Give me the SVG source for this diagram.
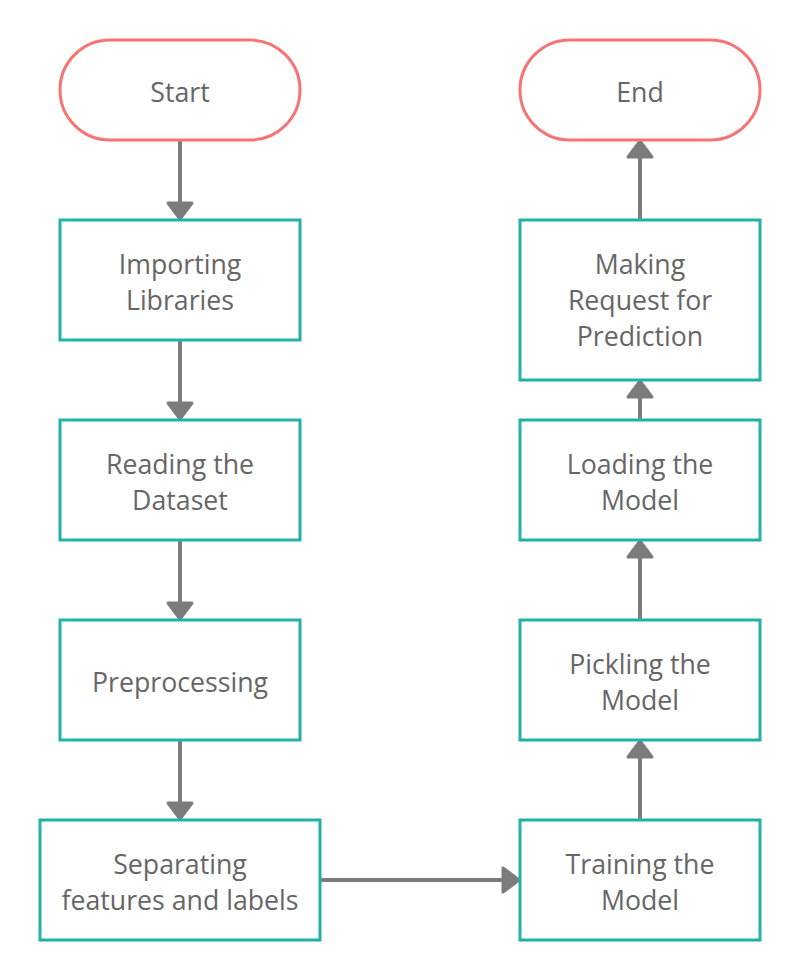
<svg xmlns="http://www.w3.org/2000/svg" width="800" height="980" viewBox="0 0 800 980">
<defs>
<style>
.term{fill:#fff;stroke:#f77474;stroke-width:3}
.box{fill:#fff;stroke:#22b0aa;stroke-width:3}
.lbl{font-family:"Open Sans","Noto Sans",sans-serif;font-size:26.7px;fill:#666;text-anchor:middle}
.ln{stroke:#7c7c7c;stroke-width:4;fill:none}
.hd{fill:#7c7c7c;stroke:#7c7c7c;stroke-width:3;stroke-linejoin:round}
</style>
</defs>
<rect width="800" height="980" fill="#fff"/>
<g id="connectors">
<line class="ln" x1="180" y1="140" x2="180" y2="204"/>
<polygon class="hd" points="168,203 192,203 180,219"/>
<line class="ln" x1="180" y1="340" x2="180" y2="404"/>
<polygon class="hd" points="168,403 192,403 180,419"/>
<line class="ln" x1="180" y1="540" x2="180" y2="604"/>
<polygon class="hd" points="168,603 192,603 180,619"/>
<line class="ln" x1="180" y1="740" x2="180" y2="804"/>
<polygon class="hd" points="168,803 192,803 180,819"/>
<line class="ln" x1="320" y1="880" x2="504" y2="880"/>
<polygon class="hd" points="503,868 503,892 519,880"/>
<line class="ln" x1="640" y1="820" x2="640" y2="756"/>
<polygon class="hd" points="628,757 652,757 640,741"/>
<line class="ln" x1="640" y1="620" x2="640" y2="556"/>
<polygon class="hd" points="628,557 652,557 640,541"/>
<line class="ln" x1="640" y1="420" x2="640" y2="396"/>
<polygon class="hd" points="628,397 652,397 640,381"/>
<line class="ln" x1="640" y1="220" x2="640" y2="156"/>
<polygon class="hd" points="628,157 652,157 640,141"/>
</g>
<g id="start"><rect class="term" x="60" y="40" width="240" height="100" rx="50"/><text class="lbl" x="180" y="101.5">Start</text></g>
<g id="importing"><rect class="box" x="60" y="220" width="240" height="120"/><text class="lbl" x="180" y="274">Importing</text><text class="lbl" x="180" y="310">Libraries</text></g>
<g id="reading"><rect class="box" x="60" y="420" width="240" height="120"/><text class="lbl" x="180" y="474">Reading the</text><text class="lbl" x="180" y="510">Dataset</text></g>
<g id="preprocessing"><rect class="box" x="60" y="620" width="240" height="120"/><text class="lbl" x="180" y="692">Preprocessing</text></g>
<g id="separating"><rect class="box" x="40" y="820" width="280" height="120"/><text class="lbl" x="180" y="874">Separating</text><text class="lbl" x="180" y="910">features and labels</text></g>
<g id="training"><rect class="box" x="520" y="820" width="240" height="120"/><text class="lbl" x="640" y="874">Training the</text><text class="lbl" x="640" y="910">Model</text></g>
<g id="pickling"><rect class="box" x="520" y="620" width="240" height="120"/><text class="lbl" x="640" y="674">Pickling the</text><text class="lbl" x="640" y="710">Model</text></g>
<g id="loading"><rect class="box" x="520" y="420" width="240" height="120"/><text class="lbl" x="640" y="474">Loading the</text><text class="lbl" x="640" y="510">Model</text></g>
<g id="making"><rect class="box" x="520" y="220" width="240" height="160"/><text class="lbl" x="640" y="274">Making</text><text class="lbl" x="640" y="310">Request for</text><text class="lbl" x="640" y="346">Prediction</text></g>
<g id="end"><rect class="term" x="520" y="40" width="240" height="100" rx="50"/><text class="lbl" x="640" y="101.5">End</text></g>
</svg>
